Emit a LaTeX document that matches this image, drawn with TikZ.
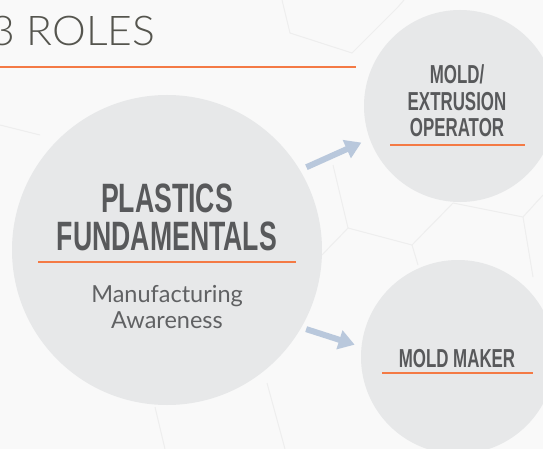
\documentclass[tikz,border=0pt]{standalone}
\usepackage{fontspec}
\setmainfont{Liberation Sans}
\newfontfamily\headfont{Liberation Sans}[FakeStretch=0.65]
\newfontfamily\thinfont{Lato Light}[FakeStretch=1.04]
\newfontfamily\subfont{Lato}
\usetikzlibrary{arrows.meta}
\definecolor{backdrop}{HTML}{F9F9F9}
\definecolor{hexline}{HTML}{EEEEEE}
\definecolor{bubble}{HTML}{E7E8E9}
\definecolor{txtgray}{HTML}{58595B}
\definecolor{ttlgray}{HTML}{55554E}
\definecolor{subgray}{HTML}{606163}
\definecolor{accent}{HTML}{F47A45}
\definecolor{flow}{HTML}{B9C8DC}

\begin{document}
\begin{tikzpicture}[x = 1pt, y = -1pt]
\tikzstyle{bubbleStyle} = [shape = circle, fill = bubble, draw = none, inner sep = 0pt]
\tikzstyle{titleStyle} = [anchor = base west, text = ttlgray, font = \thinfont\fontsize{41}{41}\selectfont, inner sep = 0pt]
\tikzstyle{headStyle} = [anchor = base, text = txtgray, font = \headfont\bfseries\fontsize{41}{41}\selectfont, inner sep = 0pt]
\tikzstyle{roleStyle} = [anchor = base, text = txtgray, font = \headfont\bfseries\fontsize{26}{26}\selectfont, inner sep = 0pt]
\tikzstyle{subStyle} = [anchor = base, text = subgray, font = \subfont\fontsize{23.5}{23.5}\selectfont, inner sep = 0pt]
\tikzstyle{ruleStyle} = [draw = accent, line width = 2.2pt]
\tikzstyle{hexStyle} = [draw = hexline, line width = 1pt]
\tikzstyle{flowStyle} = [draw = flow, line width = 6pt, -{Triangle[length = 16pt, width = 19pt]}]
\useasboundingbox (0,0) rectangle (543,449);
\clip (0,0) rectangle (543,449);
\fill[backdrop] (0,0) rectangle (543,449);
\draw[hexStyle] (282,0) -- (290,33) -- (352,53) -- (398,7) -- (404,0);
\draw[hexStyle] (333,165) -- (348,228) -- (412,245) -- (453,203);
\draw[hexStyle] (453,203) -- (523,217) -- (543,195);
\draw[hexStyle] (523,217) -- (533,277);
\draw[hexStyle] (348,228) -- (322,255);
\draw[hexStyle] (412,245) -- (418,265);
\draw[hexStyle] (155,407) -- (165,449);
\draw[hexStyle] (267,383) -- (285,449);
\draw[hexStyle] (0,125) -- (40,135);
\node[bubbleStyle, minimum size = 310pt] (fund) at (167,250) {};
\node[bubbleStyle, minimum size = 192pt] (oper) at (460,106) {};
\node[bubbleStyle, minimum size = 194pt] (maker) at (458,357) {};
\node[titleStyle] (title) at (-10,46) {3 ROLES};
\coordinate (titleL) at (0,67);
\coordinate (titleR) at (356,67);
\draw[ruleStyle] (titleL) -- (titleR);
\node[headStyle] (head1) at (167,212) {PLASTICS};
\node[headStyle] (head2) at (167,250) {FUNDAMENTALS};
\coordinate (fundL) at (38,262);
\coordinate (fundR) at (296,262);
\draw[ruleStyle] (fundL) -- (fundR);
\node[subStyle] (sub1) at (167,302) {Manufacturing};
\node[subStyle] (sub2) at (167,328) {Awareness};
\node[roleStyle] (oper1) at (457,84) {MOLD/};
\node[roleStyle] (oper2) at (457,111) {EXTRUSION};
\node[roleStyle] (oper3) at (457,137) {OPERATOR};
\coordinate (operL) at (390,145);
\coordinate (operR) at (525,145);
\draw[ruleStyle] (operL) -- (operR);
\node[roleStyle] (maker1) at (457,367) {MOLD MAKER};
\coordinate (makerL) at (382,373);
\coordinate (makerR) at (533,373);
\draw[ruleStyle] (makerL) -- (makerR);
\draw[flowStyle, shorten <= 7pt, shorten >= 9pt] (fund.31.6) -- (oper.200.7);
\draw[flowStyle, shorten <= 5pt, shorten >= 7pt] (fund.-30.7) -- (maker.174.5);
\end{tikzpicture}
\end{document}
